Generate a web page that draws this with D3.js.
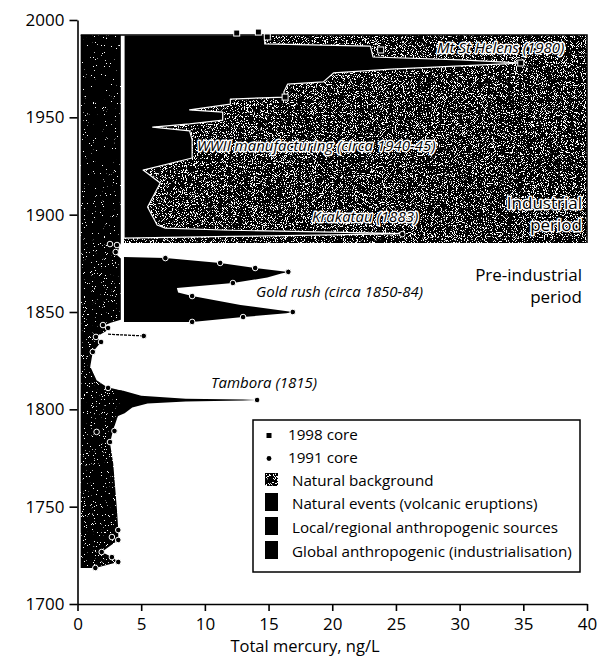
<!DOCTYPE html>
<html>
<head>
<meta charset="utf-8">
<script src="https://cdn.jsdelivr.net/npm/d3@7"></script>
<style>
  html, body { margin: 0; padding: 0; background: #fff; }
  svg { display: block; font-family: "Open Sans", "Noto Sans", sans-serif; }
</style>
</head>
<body>
<svg id="chart" width="604" height="659"></svg>
<script>
// ---- data -------------------------------------------------------------
const yearTicks = [1700, 1750, 1800, 1850, 1900, 1950, 2000];
const mercuryTicks = [0, 5, 10, 15, 20, 25, 30, 35, 40];

// industrial period window (years) and the natural background range in it (ng/L)
const industrialPeriod = [1885.5, 1992.3];
const backgroundRange = [0.25, 3.4];
const anthropogenicBase = 3.65;
const axisMax = 40;

// natural background in the pre-industrial period: [year, ng/L]
const preIndustrialBackground = [
  [1885.5, 3.4], [1883.9, 3.3], [1881.8, 3.2], [1879.3, 3.1], [1877.5, 3.4],
  [1846.0, 3.4], [1844.5, 2.6], [1843.3, 2.2], [1840.8, 2.4], [1837.2, 1.45],
  [1834.6, 1.85], [1829.5, 1.2], [1822.0, 1.0], [1815.0, 1.5], [1811.5, 2.3],
  [1809.5, 3.5], [1797.1, 3.2], [1789.4, 2.8], [1782.7, 2.55], [1772.4, 2.8],
  [1748.3, 3.1], [1738.0, 3.2], [1732.9, 3.2], [1726.7, 1.9], [1724.1, 2.7],
  [1721.6, 3.2], [1718.5, 1.4]
];

// global anthropogenic envelope (1998 core), top to bottom: [year, ng/L]
const globalAnthropogenic = [
  [1992.3, 14.7], [1987.7, 14.7], [1986.6, 23.0], [1981.0, 23.2], [1979.5, 30.1],
  [1977.9, 34.8], [1976.4, 30.1], [1974.8, 24.6], [1972.8, 20.1], [1968.2, 19.3],
  [1967.1, 16.5], [1963.0, 16.2], [1960.4, 16.3], [1959.4, 12.0], [1956.8, 12.0],
  [1953.8, 8.8], [1952.7, 11.4], [1948.6, 11.4], [1946.6, 8.8], [1945.0, 5.9],
  [1943.0, 8.8], [1938.4, 9.0], [1929.1, 9.0], [1922.9, 5.15], [1916.3, 6.5],
  [1903.9, 5.5], [1894.7, 6.25], [1893.1, 6.9], [1892.0, 12.0], [1891.0, 20.0],
  [1890.3, 25.5], [1889.6, 20.0], [1888.8, 12.0], [1888.0, 3.65]
];

// local / regional anthropogenic (gold rush): [year, ng/L]
const goldRush = [
  [1878.3, 3.65], [1877.7, 6.9], [1875.2, 11.2], [1872.6, 13.95], [1870.6, 16.55],
  [1869.8, 16.0], [1867.7, 14.9], [1864.9, 12.2], [1862.3, 7.8], [1860.0, 7.9],
  [1858.2, 9.0], [1853.6, 12.8], [1850.0, 16.9], [1849.4, 16.4], [1847.4, 13.0],
  [1844.9, 9.0], [1844.9, 3.65]
];

// Tambora eruption peak: [year, ng/L]
const tambora = [
  [1810.0, 3.0], [1809.5, 3.6], [1807.0, 5.0], [1805.5, 8.5], [1805.0, 13.0],
  [1804.8, 14.1], [1804.5, 13.0], [1804.0, 8.5], [1803.0, 5.5], [1801.0, 4.3],
  [1798.0, 3.7], [1796.0, 3.0]
];

// small isolated peak around 1838: [year, ng/L]
const minorPeak = [[1838.6, 2.4], [1837.7, 5.2]];

// 1991 core samples: [year, ng/L]
const core1991 = [
  [1884.9, 2.55], [1884.4, 3.1], [1880.8, 3.0],
  [1877.7, 6.9], [1875.2, 11.2], [1872.6, 13.95], [1870.6, 16.55], [1864.9, 12.2],
  [1858.2, 9.0], [1850.0, 16.9], [1847.4, 13.0], [1844.9, 9.0],
  [1843.3, 2.0], [1841.8, 2.4], [1837.7, 5.2], [1837.2, 1.45], [1834.6, 1.85], [1829.5, 1.2],
  [1811.0, 2.4], [1804.8, 14.1],
  [1788.4, 1.5], [1788.9, 2.9], [1783.2, 2.55],
  [1738.0, 3.2], [1734.4, 2.7], [1732.9, 3.2], [1726.7, 1.9], [1724.1, 2.7],
  [1721.6, 3.2], [1718.5, 1.4], [1890.0, 25.5]
];

// 1998 core samples: [year, ng/L]
const core1998 = [
  [1993.8, 14.2], [1993.3, 12.5], [1991.3, 14.9], [1984.6, 23.8],
  [1977.9, 34.8], [1960.4, 16.3]
];

const legendItems = [
  { label: "1998 core", kind: "square" },
  { label: "1991 core", kind: "circle" },
  { label: "Natural background", kind: "grain" },
  { label: "Natural events (volcanic eruptions)", kind: "solid" },
  { label: "Local/regional anthropogenic sources", kind: "solid" },
  { label: "Global anthropogenic (industrialisation)", kind: "solid" }
];

const annotations = [
  { text: "Mt St Helens (1980)", x: 437, y: 53 },
  { text: "WWII manufacturing (circa 1940-45)", x: 197, y: 151 },
  { text: "Krakatau (1883)", x: 312, y: 222 },
  { text: "Gold rush (circa 1850-84)", x: 256, y: 297 },
  { text: "Tambora (1815)", x: 211, y: 388 }
];
const periodLabels = [
  { lines: ["Industrial", "period"], x: 582, y: 209 },
  { lines: ["Pre-industrial", "period"], x: 582, y: 281 }
];

// ---- layout -----------------------------------------------------------
const svg = d3.select("#chart");
const x = d3.scaleLinear().domain([0, 40]).range([77.5, 587]);
const y = d3.scaleLinear().domain([1700, 2000]).range([604, 20]);

const defs = svg.append("defs");

// stipple textures: white specks thresholded out of fractal noise over black
function grainFilter(id, threshold, freq, seed) {
  const f = defs.append("filter").attr("id", id)
    .attr("filterUnits", "userSpaceOnUse")
    .attr("x", 0).attr("y", 0).attr("width", 604).attr("height", 659)
    .attr("color-interpolation-filters", "sRGB");
  f.append("feTurbulence").attr("type", "fractalNoise")
    .attr("baseFrequency", freq).attr("numOctaves", 2).attr("seed", seed).attr("result", "n");
  const k = 30;
  f.append("feColorMatrix").attr("in", "n").attr("type", "matrix")
    .attr("values", `0 0 0 0 1  0 0 0 0 1  0 0 0 0 1  ${k} 0 0 0 ${-k * threshold}`)
    .attr("result", "w");
  f.append("feFlood").attr("flood-color", "#000").attr("result", "b");
  const m = f.append("feMerge");
  m.append("feMergeNode").attr("in", "b");
  m.append("feMergeNode").attr("in", "w");
}
grainFilter("grain-box", 0.575, 1.1, 4);
grainFilter("grain-band", 0.72, 1.1, 9);
grainFilter("grain-pre", 0.685, 1.1, 13);

const polyLine = d3.line().x(d => x(d[1])).y(d => y(d[0]));

// industrial period box texture
const boxX0 = x(anthropogenicBase), boxX1 = x(axisMax);
const boxY0 = y(industrialPeriod[1]), boxY1 = y(industrialPeriod[0]);
defs.append("clipPath").attr("id", "clip-box")
  .append("rect").attr("x", boxX0).attr("y", boxY0)
  .attr("width", boxX1 - boxX0).attr("height", boxY1 - boxY0);
svg.append("rect").attr("x", 0).attr("y", 0).attr("width", 604).attr("height", 659)
  .attr("filter", "url(#grain-box)").attr("clip-path", "url(#clip-box)");

// global anthropogenic envelope
const globalPoly = [[industrialPeriod[1], anthropogenicBase], ...globalAnthropogenic];
svg.append("path").attr("d", polyLine(globalPoly) + "Z")
  .attr("fill", "#000").attr("stroke", "#fff").attr("stroke-width", 1.2)
  .attr("stroke-linejoin", "round").attr("clip-path", "url(#clip-box)");

// natural events and local sources (pre-industrial)
svg.append("path").attr("d", polyLine(goldRush) + "Z").attr("fill", "#000");
svg.append("path").attr("d", polyLine(tambora) + "Z").attr("fill", "#000");
svg.append("path").attr("d", polyLine(minorPeak))
  .attr("fill", "none").attr("stroke", "#000").attr("stroke-width", 1.3)
  .attr("stroke-dasharray", "3 1");

// natural background band, industrial period
defs.append("clipPath").attr("id", "clip-band")
  .append("rect").attr("x", x(backgroundRange[0])).attr("y", boxY0)
  .attr("width", x(backgroundRange[1]) - x(backgroundRange[0])).attr("height", boxY1 - boxY0);
svg.append("rect").attr("x", 0).attr("y", 0).attr("width", 604).attr("height", 659)
  .attr("filter", "url(#grain-band)").attr("clip-path", "url(#clip-band)");

// natural background band, pre-industrial period
const preArea = d3.area()
  .y(d => y(d[0])).x0(x(backgroundRange[0])).x1(d => x(d[1]));
defs.append("clipPath").attr("id", "clip-pre")
  .append("path").attr("d", preArea(preIndustrialBackground));
svg.append("rect").attr("x", 0).attr("y", 0).attr("width", 604).attr("height", 659)
  .attr("filter", "url(#grain-pre)").attr("clip-path", "url(#clip-pre)");

// box outline: top and right edges
svg.append("path")
  .attr("d", `M${x(backgroundRange[0])},${boxY0}H${boxX1}V${boxY1}`)
  .attr("fill", "none").attr("stroke", "#000").attr("stroke-width", 1.5);

// core samples
svg.append("g").selectAll("circle").data(core1991).join("circle")
  .attr("cx", d => x(d[1])).attr("cy", d => y(d[0])).attr("r", 2.8)
  .attr("fill", "#000").attr("stroke", "#fff").attr("stroke-width", 1);
svg.append("g").selectAll("rect").data(core1998).join("rect")
  .attr("x", d => x(d[1]) - 3).attr("y", d => y(d[0]) - 3)
  .attr("width", 6).attr("height", 6)
  .attr("fill", "#000").attr("stroke", "#fff").attr("stroke-width", 1);

// axes
const yAxis = svg.append("g").attr("transform", `translate(${x(0)},0)`)
  .call(d3.axisLeft(y).tickValues(yearTicks).tickFormat(d3.format("d"))
    .tickSize(8).tickSizeOuter(0).tickPadding(5));
const xAxis = svg.append("g").attr("transform", `translate(0,${y(1700)})`)
  .call(d3.axisBottom(x).tickValues(mercuryTicks).tickFormat(d3.format("d"))
    .tickSize(7).tickSizeOuter(0).tickPadding(7));
[yAxis, xAxis].forEach(g => {
  g.select(".domain").attr("stroke-width", 1.6);
  g.selectAll(".tick line").attr("stroke-width", 1.6);
  g.selectAll("text").attr("font-size", 17).attr("font-family", "\"Open Sans\", sans-serif")
    .attr("fill", "#000");
});

svg.append("text").attr("x", 305).attr("y", 652).attr("text-anchor", "middle")
  .attr("font-size", 16.5).text("Total mercury, ng/L");

// annotations with white halo
svg.append("g").selectAll("text").data(annotations).join("text")
  .attr("x", d => d.x).attr("y", d => d.y)
  .attr("font-size", 15).attr("font-style", "italic")
  .attr("stroke", "#fff").attr("stroke-width", 3).attr("paint-order", "stroke")
  .attr("stroke-linejoin", "round")
  .text(d => d.text);

periodLabels.forEach(p => {
  const t = svg.append("text").attr("x", p.x).attr("y", p.y)
    .attr("text-anchor", "end").attr("font-size", 17)
    .attr("stroke", "#fff").attr("stroke-width", 3).attr("paint-order", "stroke")
    .attr("stroke-linejoin", "round");
  p.lines.forEach((l, i) => t.append("tspan").attr("x", p.x).attr("dy", i ? 22 : 0).text(l));
});

// legend
const lg = svg.append("g");
lg.append("rect").attr("x", 253).attr("y", 420).attr("width", 327).attr("height", 152)
  .attr("fill", "#fff").attr("stroke", "#000").attr("stroke-width", 1.5);
const rowY = [440, 463, 486, 509, 533, 557];
legendItems.forEach((it, i) => {
  const by = rowY[i];
  if (it.kind === "square") {
    lg.append("rect").attr("x", 266.5).attr("y", by - 7).attr("width", 5).attr("height", 5).attr("fill", "#000");
  } else if (it.kind === "circle") {
    lg.append("circle").attr("cx", 269).attr("cy", by - 4.5).attr("r", 2.4).attr("fill", "#000");
  } else if (it.kind === "grain") {
    defs.append("clipPath").attr("id", "clip-leg")
      .append("rect").attr("x", 265).attr("y", by - 13).attr("width", 13).attr("height", 13);
    lg.append("rect").attr("x", 0).attr("y", 0).attr("width", 604).attr("height", 659)
      .attr("filter", "url(#grain-box)").attr("clip-path", "url(#clip-leg)");
  } else {
    lg.append("rect").attr("x", 265).attr("y", by - 16).attr("width", 13).attr("height", 18).attr("fill", "#000");
  }
  lg.append("text").attr("x", i < 2 ? 288 : 292).attr("y", by)
    .attr("font-size", 15.2).text(it.label);
});
</script>
</body>
</html>
